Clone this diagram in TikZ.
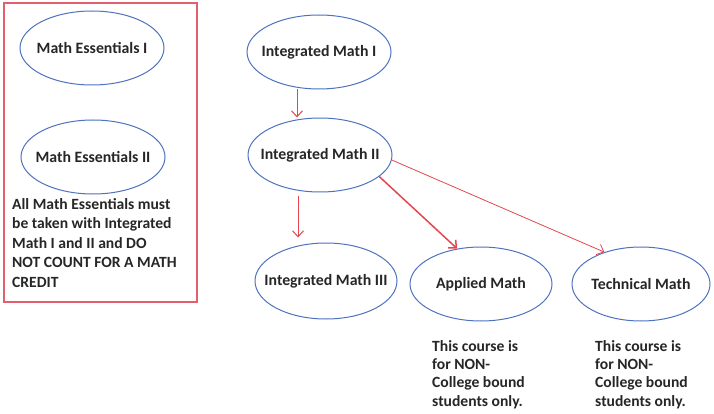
\documentclass[tikz,border=0pt]{standalone}
\usepackage{fontspec}
\setmainfont{Carlito}
\usepackage{tikz}
\usetikzlibrary{shapes.geometric,arrows.meta}
\definecolor{ellblue}{RGB}{79,114,190}
\definecolor{boxred}{RGB}{226,96,108}
\definecolor{arrred}{RGB}{228,70,80}
\begin{document}
\begin{tikzpicture}[x=1pt, y=-1pt,
  course/.style={ellipse, draw=ellblue, line width=1pt, inner xsep=-30pt, inner ysep=0pt,
    minimum width=144pt, minimum height=74pt, font=\fontsize{15.8}{18}\selectfont\bfseries, text=black!85},
  note/.style={anchor=north west, inner sep=0pt, align=left, text=black!85},
  >={Straight Barb[length=6pt,width=11pt]}]
\useasboundingbox (0,0) rectangle (714,414);
\draw [boxred, line width=1.3pt] (4,3) rectangle (197,302);
\node [course] (me1) at (92,48) {Math Essentials I};
\node [course] (me2) at (93,157) {Math Essentials II};
\node [note, font=\fontsize{15.6}{19.5}\selectfont\bfseries] (meText) at (12,198)
  {All Math Essentials must\\be taken with Integrated\\Math I and II and DO\\NOT COUNT FOR A MATH\\CREDIT};
\node [course] (im1) at (319,52) {Integrated Math I};
\node [course] (im2) at (320,155) {Integrated Math II};
\node [course, minimum width=142pt, minimum height=76pt] (im3) at (326,281) {Integrated Math III};
\node [course, minimum width=142pt] (app) at (481,284) {Applied Math};
\node [course, minimum width=138pt] (tech) at (641,284) {Technical Math};
\node [note, font=\fontsize{15.6}{18.3}\selectfont\bfseries] (appText) at (432,340)
  {This course is\\for NON-\\College bound\\students only.};
\node [note, font=\fontsize{15.6}{18.3}\selectfont\bfseries] (techText) at (595,340)
  {This course is\\for NON-\\College bound\\students only.};
% arrows
\draw [->, arrred, line width=1pt] ([xshift=-22pt]im1.south) -- ([xshift=-23pt]im2.north);
\draw [->, arrred, line width=1pt] ([shift={(-22,3)}]im2.south) -- ([shift={(-28,-5)}]im3.north);
\draw [->, arrred, line width=1.5pt] (im2.-20) -- (app.124);
\draw [->, arrred, line width=0.8pt] (im2.-4) -- (tech.139);
\end{tikzpicture}
\end{document}
